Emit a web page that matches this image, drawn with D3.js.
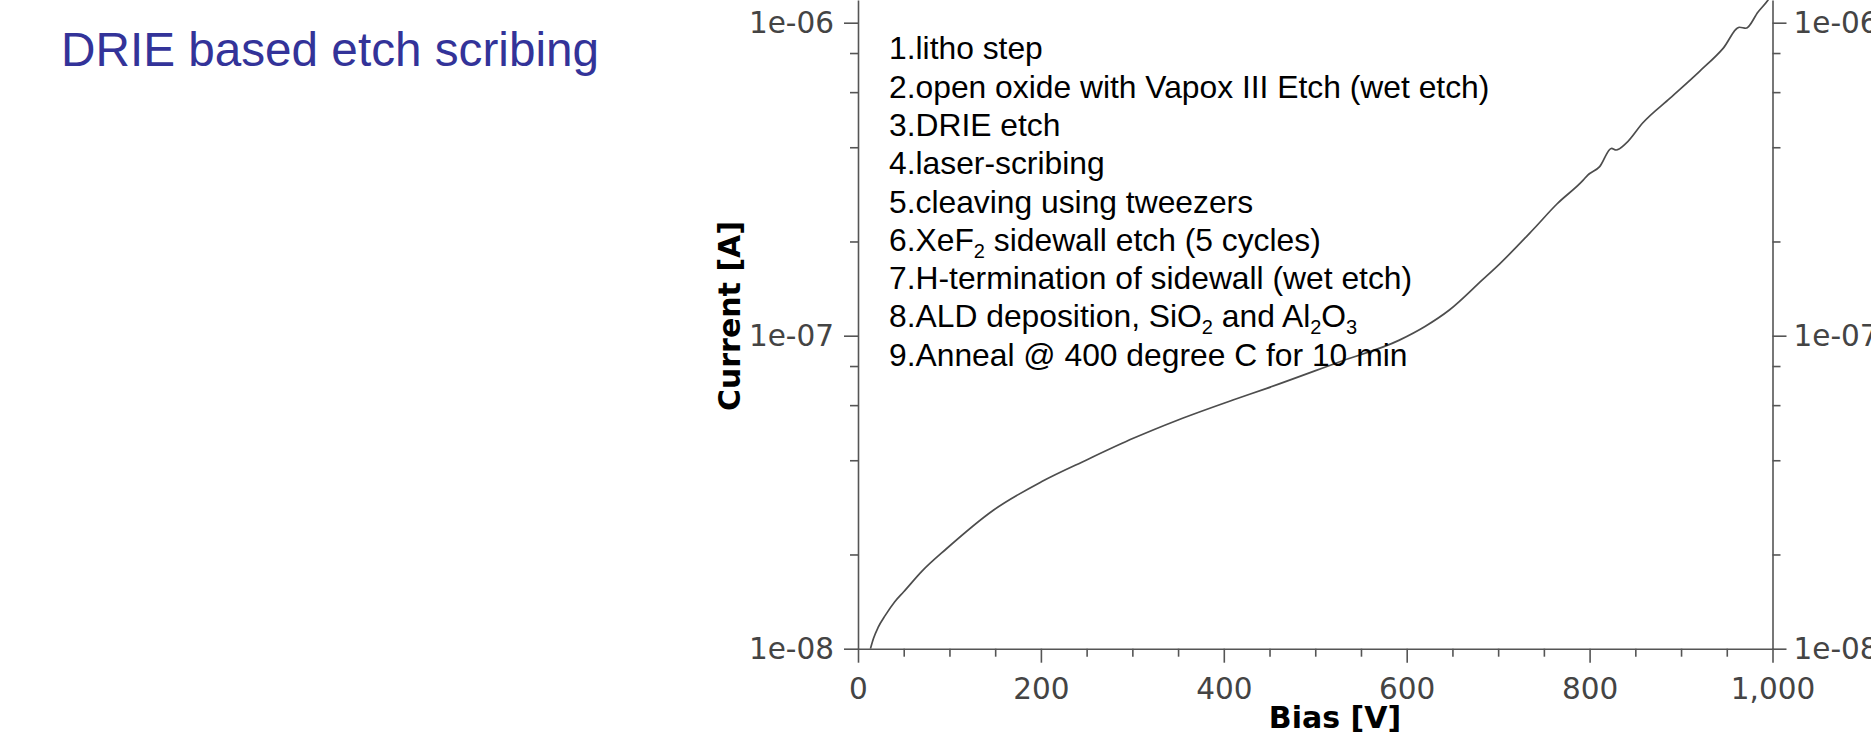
<!DOCTYPE html>
<html>
<head>
<meta charset="utf-8">
<script src="https://cdn.jsdelivr.net/npm/d3@7"></script>
<style>
  html, body { margin: 0; padding: 0; background: #fff; }
  svg { display: block; }
</style>
</head>
<body>
<svg id="chart" width="1871" height="745"></svg>
<script>
// ---- data ----
const bias = [13.6, 17, 22, 30, 40, 50, 70, 97, 148, 201, 250, 301, 350, 410, 447, 527, 592, 620, 647, 683, 702, 738, 764, 793, 798, 811, 824, 829, 840, 858, 888, 920, 946, 964, 971, 984, 995, 1000];
const current = [1.0e-8, 1.08e-8, 1.17e-8, 1.28e-8, 1.41e-8, 1.52e-8, 1.77e-8, 2.09e-8, 2.77e-8, 3.42e-8, 4.01e-8, 4.70e-8, 5.38e-8, 6.23e-8, 6.79e-8, 8.26e-8, 9.68e-8, 1.07e-7, 1.21e-7, 1.51e-7, 1.70e-7, 2.18e-7, 2.63e-7, 3.14e-7, 3.26e-7, 3.47e-7, 3.97e-7, 3.92e-7, 4.12e-7, 4.78e-7, 5.74e-7, 6.98e-7, 8.28e-7, 9.67e-7, 9.60e-7, 1.08e-6, 1.18e-6, 1.24e-6];
const xMajorTicks = [0, 200, 400, 600, 800, 1000];
const xMinorTicks = [50, 100, 150, 250, 300, 350, 450, 500, 550, 650, 700, 750, 850, 900, 950];
const yMajorTicks = [1e-8, 1e-7, 1e-6];
const yMinorTicks = [2e-8, 4e-8, 6e-8, 8e-8, 2e-7, 4e-7, 6e-7, 8e-7];
const titleText = "DRIE based etch scribing";
const xTitle = "Bias [V]";
const yTitle = "Current [A]";
// process steps: [text, isSubscript] segments
const steps = [
  [["1.litho step", false]],
  [["2.open oxide with Vapox III Etch (wet etch)", false]],
  [["3.DRIE etch", false]],
  [["4.laser-scribing", false]],
  [["5.cleaving using tweezers", false]],
  [["6.XeF", false], ["2", true], [" sidewall etch (5 cycles)", false]],
  [["7.H-termination of sidewall (wet etch)", false]],
  [["8.ALD deposition, SiO", false], ["2", true], [" and Al", false], ["2", true], ["O", false], ["3", true]],
  [["9.Anneal @ 400 degree C for 10 min", false]]
];

// ---- layout ----
const W = 1871, H = 745;
const plot = { left: 858, right: 1772.5, top: 0, bottom: 648.7 };
const yTopValue = Math.pow(10, -8 + (plot.bottom - plot.top) / 313);

const svg = d3.select("#chart");

const x = d3.scaleLinear().domain([0, 1000]).range([plot.left, plot.right]);
const y = d3.scaleLog().domain([1e-8, yTopValue]).range([plot.bottom, plot.top]);

const axisColor = "#555";
const labelColor = "#444";
const tickFont = "'DejaVu Sans', sans-serif";

const expFmt = d => {
  const e = Math.round(Math.log10(d));
  return "1e" + (e < 0 ? "-" : "+") + String(Math.abs(e)).padStart(2, "0");
};

function styleAxis(g) {
  g.selectAll("path.domain").attr("stroke", axisColor).attr("stroke-width", 1.6);
  g.selectAll(".tick line").attr("stroke", axisColor).attr("stroke-width", 1.6);
  g.selectAll(".tick text").attr("fill", labelColor)
    .style("font-family", tickFont).style("font-size", "29.5px");
}

// Title
svg.append("text")
  .attr("x", 61).attr("y", 66)
  .attr("fill", "#333399")
  .style("font-family", "'Liberation Sans', Arial, sans-serif")
  .style("font-size", "47.7px")
  .text(titleText);

// Left axis (major)
const gL = svg.append("g").attr("transform", `translate(${plot.left},0)`)
  .call(d3.axisLeft(y).tickValues(yMajorTicks).tickFormat(expFmt).tickSize(14).tickSizeOuter(0).tickPadding(10));
styleAxis(gL);
const gLm = svg.append("g").attr("transform", `translate(${plot.left},0)`)
  .call(d3.axisLeft(y).tickValues(yMinorTicks).tickFormat("").tickSize(8).tickSizeOuter(0));
gLm.select("path.domain").remove();
styleAxis(gLm);

// Right axis (major)
const gR = svg.append("g").attr("transform", `translate(${plot.right},0)`)
  .call(d3.axisRight(y).tickValues(yMajorTicks).tickFormat(expFmt).tickSize(14).tickSizeOuter(0).tickPadding(7));
styleAxis(gR);
const gRm = svg.append("g").attr("transform", `translate(${plot.right},0)`)
  .call(d3.axisRight(y).tickValues(yMinorTicks).tickFormat("").tickSize(8).tickSizeOuter(0));
gRm.select("path.domain").remove();
styleAxis(gRm);

// Bottom axis
const gB = svg.append("g").attr("transform", `translate(0,${plot.bottom})`)
  .call(d3.axisBottom(x).tickValues(xMajorTicks).tickFormat(d3.format(",")).tickSize(14).tickSizeOuter(0));
styleAxis(gB);
gB.selectAll(".tick text").attr("y", 50.5).attr("dy", 0);
const gBm = svg.append("g").attr("transform", `translate(0,${plot.bottom})`)
  .call(d3.axisBottom(x).tickValues(xMinorTicks).tickFormat("").tickSize(8).tickSizeOuter(0));
gBm.select("path.domain").remove();
styleAxis(gBm);

// Axis titles
svg.append("text")
  .attr("x", 1335).attr("y", 728)
  .attr("text-anchor", "middle")
  .style("font-family", tickFont).style("font-size", "30px").style("font-weight", "bold")
  .attr("fill", "#000")
  .text(xTitle);
svg.append("text")
  .attr("transform", "translate(740,316) rotate(-90)")
  .attr("text-anchor", "middle")
  .style("font-family", tickFont).style("font-size", "30px").style("font-weight", "bold")
  .attr("fill", "#000")
  .text(yTitle);

// Curve
svg.append("clipPath").attr("id", "plotclip")
  .append("rect")
  .attr("x", plot.left).attr("y", plot.top)
  .attr("width", plot.right - plot.left).attr("height", plot.bottom - plot.top);

const pts = bias.map((b, i) => [b, current[i]]);
const line = d3.line().x(d => x(d[0])).y(d => y(d[1])).curve(d3.curveMonotoneX);
svg.append("path")
  .attr("clip-path", "url(#plotclip)")
  .attr("d", line(pts))
  .attr("fill", "none")
  .attr("stroke", "#4d4d4d")
  .attr("stroke-width", 1.7);

// Process steps annotation
const stepFont = "'Liberation Sans', Arial, sans-serif";
const ann = svg.append("text")
  .style("font-family", stepFont).style("font-size", "31.8px")
  .attr("fill", "#000");
steps.forEach((segs, i) => {
  const baseY = 59.3 + i * 38.3;
  segs.forEach((s, j) => {
    const ts = ann.append("tspan").text(s[0]);
    if (j === 0) ts.attr("x", 889);
    if (s[1]) {
      ts.attr("y", baseY + 7).style("font-size", "20px");
    } else {
      ts.attr("y", baseY);
    }
  });
});
</script>
</body>
</html>
